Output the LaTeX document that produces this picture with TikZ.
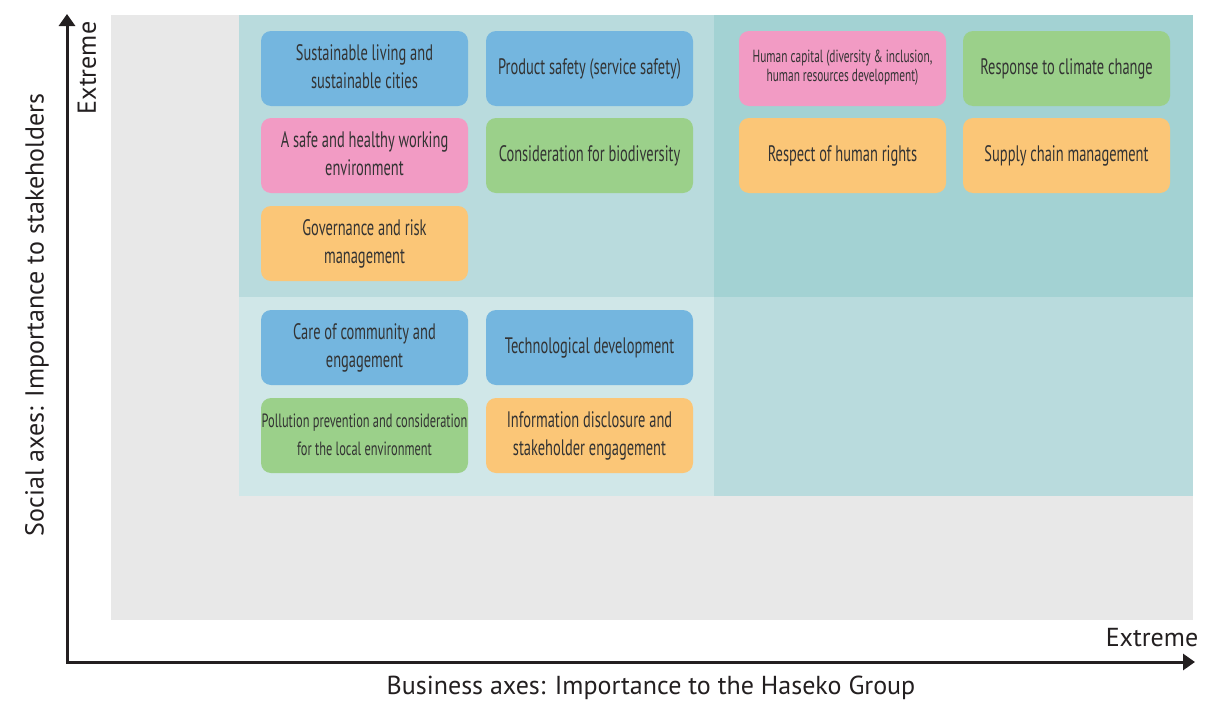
\documentclass[tikz,border=0pt]{standalone}
\usepackage{fontspec}
\setmainfont{PT Sans}
\usetikzlibrary{arrows.meta}

\definecolor{bggray}{HTML}{E8E8E8}
\definecolor{tealmid}{HTML}{B9DBDD}
\definecolor{tealdark}{HTML}{A3D2D3}
\definecolor{teallight}{HTML}{D0E7E8}
\definecolor{topicblue}{HTML}{74B6DF}
\definecolor{topicpink}{HTML}{F29BC4}
\definecolor{topicgreen}{HTML}{9BD08A}
\definecolor{topicorange}{HTML}{FBC677}
\definecolor{axisblack}{HTML}{231F20}
\definecolor{textgray}{HTML}{333333}

% Squeeze the lines of a topic horizontally, like a condensed face
\newcommand{\squeeze}[1]{\raisebox{-1pt}{\scalebox{0.645}[1]{\begin{tabular}{@{}c@{}}#1\end{tabular}}}}

\tikzset{
  topic/.style={rounded corners=5pt, minimum width=103.5pt, minimum height=37.5pt,
    inner sep=0pt, align=center, text=textgray, font=\fontsize{11.2}{14}\selectfont},
  bluebox/.style={topic, fill=topicblue},
  pinkbox/.style={topic, fill=topicpink},
  greenbox/.style={topic, fill=topicgreen},
  orangebox/.style={topic, fill=topicorange},
  pinksmall/.style={pinkbox, font=\fontsize{8.8}{9.5}\selectfont},
  greensmall/.style={greenbox, font=\fontsize{9.6}{14}\selectfont},
  axislabel/.style={text=axisblack, font=\fontsize{13}{15}\selectfont, inner sep=0pt}
}

\begin{document}
\begin{tikzpicture}[x=0.5pt, y=-0.5pt]
  \useasboundingbox (0,0) rectangle (1223,702);

  % Shaded quadrants behind the topics
  \fill[bggray] (111,15) rectangle (1193,620);
  \fill[tealmid] (239,15) rectangle (714,297);
  \fill[tealdark] (714,15) rectangle (1193,297);
  \fill[teallight] (239,297) rectangle (714,496);
  \fill[tealmid] (714,297) rectangle (1193,496);

  % Topic boxes: name / x / y / style / text
  \foreach \name/\x/\y/\sty/\txt in {
      cities/364.5/68.5/bluebox/{Sustainable living and\\sustainable cities},
      safety/589.5/68.5/bluebox/{Product safety (service safety)},
      capital/842.5/68.5/pinksmall/{Human capital (diversity \& inclusion,\\human resources development)},
      climate/1066.5/68.5/greenbox/{Response to climate change},
      workenv/364.5/155.5/pinkbox/{A safe and healthy working\\environment},
      biodiv/589.5/155.5/greenbox/{Consideration for biodiversity},
      rights/842.5/155.5/orangebox/{Respect of human rights},
      supply/1066.5/155.5/orangebox/{Supply chain management},
      govern/364.5/243.5/orangebox/{Governance and risk\\management},
      community/364.5/347.5/bluebox/{Care of community and\\engagement},
      tech/589.5/347.5/bluebox/{Technological development},
      pollution/364.5/435.5/greensmall/{Pollution prevention and consideration\\for the local environment},
      disclosure/589.5/435.5/orangebox/{Information disclosure and\\stakeholder engagement}}
    {\node[\sty] (\name) at (\x,\y) {\squeeze{\txt}};}

  % Axes
  \coordinate (origin) at (67,662);
  \coordinate (ytop) at (67,14);
  \coordinate (xend) at (1195,662);
  \draw[axisblack, line width=1.5pt, miter limit=10,
    {Triangle[width=8pt,length=6pt]}-{Triangle[width=8pt,length=6pt]}]
    (ytop) -- (origin) -- (xend);

  % Axis labels
  \node[axislabel, rotate=90] (yextreme) at (87,68) {Extreme};
  \node[axislabel] (xextreme) at (1152,638) {Extreme};
  \node[axislabel, rotate=90] (ytitle) at (37,315) {Social axes: Importance to stakeholders};
  \node[axislabel] (xtitle) at (651,688) {Business axes: Importance to the Haseko Group};
\end{tikzpicture}
\end{document}
